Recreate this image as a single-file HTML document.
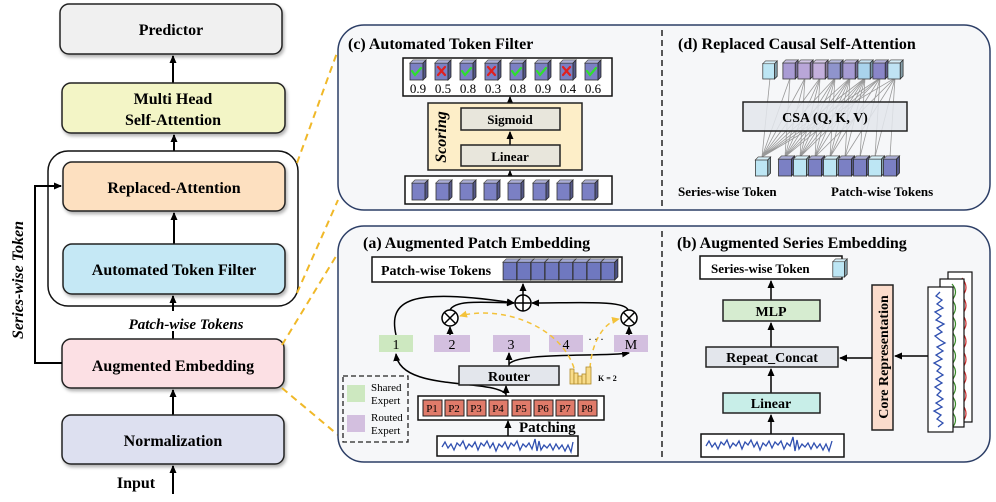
<!DOCTYPE html>
<html><head><meta charset="utf-8"><style>
html,body{margin:0;padding:0;background:#fff;}
svg{display:block;font-family:"Liberation Serif",serif;}
.b{font-weight:bold;}
</style></head><body>
<svg width="996" height="502" viewBox="0 0 996 502" xmlns="http://www.w3.org/2000/svg">
<defs>
<marker id="ar" markerWidth="8" markerHeight="8" refX="7" refY="4" orient="auto" markerUnits="userSpaceOnUse"><path d="M0,0.5 L8,4 L0,7.5 Z" fill="#000"/></marker>
<marker id="ag" markerWidth="7" markerHeight="7" refX="6" refY="3.5" orient="auto" markerUnits="userSpaceOnUse"><path d="M0,0.5 L7,3.5 L0,6.5 Z" fill="#888"/></marker>
<marker id="ay" markerWidth="8" markerHeight="8" refX="7" refY="4" orient="auto" markerUnits="userSpaceOnUse"><path d="M0,0.5 L8,4 L0,7.5 Z" fill="#f3c23a"/></marker>
<symbol id="cb" viewBox="0 0 16 20" overflow="visible">
<rect x="0" y="3" width="13" height="17" stroke="#333" stroke-width="0.8"/>
<polygon points="0,3 3,0 16,0 13,3" stroke="#333" stroke-width="0.8"/>
<polygon points="0,3 3,0 16,0 13,3" fill="#fff" opacity="0.35"/>
<polygon points="13,3 16,0 16,17 13,20" stroke="#333" stroke-width="0.8"/>
<polygon points="13,3 16,0 16,17 13,20" fill="#000" opacity="0.3"/>
</symbol>
<filter id="sh" x="-5%" y="-5%" width="115%" height="130%"><feDropShadow dx="1.5" dy="2.5" stdDeviation="1.5" flood-color="#000" flood-opacity="0.3"/></filter>
</defs>

<!-- LEFT COLUMN -->
<rect x="60" y="4" width="222" height="50" rx="9" fill="#f0f0f0" stroke="#222" stroke-width="1.5" filter="url(#sh)"/>
<text x="171" y="35" text-anchor="middle" class="b" font-size="16">Predictor</text>
<line x1="173" y1="83" x2="173" y2="56" stroke="#000" stroke-width="2" marker-end="url(#ar)"/>
<rect x="62" y="83" width="223" height="50" rx="9" fill="#f3f5c6" stroke="#222" stroke-width="1.5" filter="url(#sh)"/>
<text x="173" y="104" text-anchor="middle" class="b" font-size="16">Multi Head</text>
<text x="173" y="125" text-anchor="middle" class="b" font-size="16">Self-Attention</text>
<line x1="174" y1="162" x2="174" y2="135" stroke="#000" stroke-width="2" marker-end="url(#ar)"/>
<rect x="48" y="151" width="250" height="155" rx="20" fill="#fff" stroke="#111" stroke-width="1.5"/>
<rect x="63" y="162" width="222" height="49" rx="9" fill="#fde0c0" stroke="#222" stroke-width="1.5" filter="url(#sh)"/>
<text x="174" y="193" text-anchor="middle" class="b" font-size="16">Replaced-Attention</text>
<line x1="174" y1="244" x2="174" y2="213" stroke="#000" stroke-width="2" marker-end="url(#ar)"/>
<rect x="63" y="244" width="222" height="50" rx="9" fill="#c5e8f5" stroke="#222" stroke-width="1.5" filter="url(#sh)"/>
<text x="174" y="275" text-anchor="middle" class="b" font-size="16">Automated Token Filter</text>
<line x1="173" y1="339" x2="173" y2="296" stroke="#000" stroke-width="2" marker-end="url(#ar)"/>
<rect x="116" y="311" width="140" height="20" fill="#fff"/>
<text x="186" y="329" text-anchor="middle" class="b" font-style="italic" font-size="15">Patch-wise Tokens</text>
<rect x="62" y="339" width="222" height="49" rx="9" fill="#fce0e4" stroke="#222" stroke-width="1.5" filter="url(#sh)"/>
<text x="173" y="371" text-anchor="middle" class="b" font-size="16">Augmented Embedding</text>
<line x1="173" y1="415" x2="173" y2="390" stroke="#000" stroke-width="2" marker-end="url(#ar)"/>
<rect x="62" y="415" width="222" height="49" rx="9" fill="#dde0f0" stroke="#222" stroke-width="1.5" filter="url(#sh)"/>
<text x="173" y="446" text-anchor="middle" class="b" font-size="16">Normalization</text>
<line x1="173" y1="494" x2="173" y2="466" stroke="#000" stroke-width="2" marker-end="url(#ar)"/>
<text x="136" y="488" text-anchor="middle" class="b" font-size="16">Input</text>
<polyline points="62,363 35,363 35,186 61,186" fill="none" stroke="#000" stroke-width="2" marker-end="url(#ar)"/>
<text transform="translate(23,280) rotate(-90)" text-anchor="middle" class="b" font-style="italic" font-size="16">Series-wise Token</text>

<!-- yellow dashed connectors -->
<g stroke="#f0b828" stroke-width="2" stroke-dasharray="7,5" fill="none">
<line x1="297" y1="163" x2="338" y2="50"/>
<line x1="297" y1="293" x2="338" y2="200"/>
<line x1="282" y1="345" x2="338" y2="253"/>
<line x1="282" y1="388" x2="338" y2="435"/>
</g>

<!-- TOP PANEL -->
<rect x="338" y="25" width="652" height="185" rx="26" fill="#f6f7f9" stroke="#2c3e66" stroke-width="1.5"/>
<line x1="662" y1="30" x2="662" y2="208" stroke="#222" stroke-width="1.5" stroke-dasharray="6,4"/>
<text x="348" y="49" class="b" font-size="16">(c) Automated Token Filter</text>
<text x="678" y="49" class="b" font-size="16">(d) Replaced Causal Self-Attention</text>

<rect x="403" y="58" width="209" height="38" fill="#fff" stroke="#111" stroke-width="1.5"/>
<g fill="#7b80c4">
<use href="#cb" x="410" y="60" width="16" height="20"/>
<use href="#cb" x="435" y="60" width="16" height="20"/>
<use href="#cb" x="460" y="60" width="16" height="20"/>
<use href="#cb" x="485" y="60" width="16" height="20"/>
<use href="#cb" x="510" y="60" width="16" height="20"/>
<use href="#cb" x="535" y="60" width="16" height="20"/>
<use href="#cb" x="560" y="60" width="16" height="20"/>
<use href="#cb" x="585" y="60" width="16" height="20"/>
</g>
<g stroke-width="2.2" fill="none" stroke-linecap="round">
<path d="M412,71 l3,4 l6,-7" stroke="#2ee02e"/>
<path d="M438,67 l7,8 M445,67 l-7,8" stroke="#e02020"/>
<path d="M462,71 l3,4 l6,-7" stroke="#2ee02e"/>
<path d="M488,67 l7,8 M495,67 l-7,8" stroke="#e02020"/>
<path d="M512,71 l3,4 l6,-7" stroke="#2ee02e"/>
<path d="M537,71 l3,4 l6,-7" stroke="#2ee02e"/>
<path d="M563,67 l7,8 M570,67 l-7,8" stroke="#e02020"/>
<path d="M587,71 l3,4 l6,-7" stroke="#2ee02e"/>
</g>
<g font-size="13" text-anchor="middle">
<text x="418" y="93">0.9</text><text x="443" y="93">0.5</text><text x="468" y="93">0.8</text><text x="493" y="93">0.3</text>
<text x="518" y="93">0.8</text><text x="543" y="93">0.9</text><text x="568" y="93">0.4</text><text x="593" y="93">0.6</text>
</g>
<line x1="510" y1="104" x2="510" y2="97" stroke="#000" stroke-width="1.5" marker-end="url(#ar)"/>
<rect x="428" y="103" width="154" height="67" fill="#fdeec8" stroke="#222" stroke-width="1.5"/>
<text transform="translate(446,137) rotate(-90)" text-anchor="middle" class="b" font-style="italic" font-size="16">Scoring</text>
<rect x="461" y="108" width="99" height="22" fill="#e8e6dc" stroke="#222" stroke-width="1.5"/>
<text x="510" y="124" text-anchor="middle" class="b" font-size="13">Sigmoid</text>
<line x1="510" y1="145" x2="510" y2="132" stroke="#000" stroke-width="1.5" marker-end="url(#ar)"/>
<rect x="461" y="145" width="99" height="21" fill="#e8e6dc" stroke="#222" stroke-width="1.5"/>
<text x="510" y="161" text-anchor="middle" class="b" font-size="13">Linear</text>
<line x1="510" y1="176" x2="510" y2="171" stroke="#000" stroke-width="1.5" marker-end="url(#ar)"/>
<rect x="405" y="176" width="207" height="28" fill="#fff" stroke="#111" stroke-width="1.5"/>
<g fill="#7b80c4">
<use href="#cb" x="412" y="180" width="16" height="20"/>
<use href="#cb" x="436" y="180" width="16" height="20"/>
<use href="#cb" x="460" y="180" width="16" height="20"/>
<use href="#cb" x="484" y="180" width="16" height="20"/>
<use href="#cb" x="508" y="180" width="16" height="20"/>
<use href="#cb" x="533" y="180" width="16" height="20"/>
<use href="#cb" x="557" y="180" width="16" height="20"/>
<use href="#cb" x="582" y="180" width="16" height="20"/>
</g>

<!-- (d) -->
<g stroke="#999" stroke-width="0.8" fill="none">
<path d="M762,157 L770,78 M762,157 L790,78 M762,157 L805,78 M762,157 L820,78 M762,157 L835,78 M762,157 L850,78 M762,157 L865,78 M762,157 L880,78 M762,157 L895,78"/>
<path d="M785,157 L790,78 M785,157 L805,78 M785,157 L820,78 M785,157 L835,78 M785,157 L850,78 M785,157 L865,78 M785,157 L880,78"/>
<path d="M800,157 L805,78 M800,157 L820,78 M800,157 L835,78 M800,157 L850,78 M800,157 L865,78 M800,157 L880,78"/>
<path d="M815,157 L820,78 M815,157 L835,78 M815,157 L850,78 M815,157 L865,78 M815,157 L895,78"/>
<path d="M830,157 L835,78 M830,157 L850,78 M830,157 L865,78 M830,157 L880,78 M845,157 L850,78 M845,157 L865,78 M845,157 L895,78 M860,157 L865,78 M860,157 L880,78 M875,157 L880,78 M875,157 L895,78 M890,157 L895,78"/>
</g>
<rect x="743" y="102" width="164" height="29" fill="#e3e6ec" fill-opacity="0.85" stroke="#222" stroke-width="1.5"/>
<text x="825" y="122" text-anchor="middle" class="b" font-size="14">CSA (Q, K, V)</text>
<use href="#cb" x="762" y="61" width="16" height="18" fill="#bde6f4"/>
<g>
<use href="#cb" x="782" y="60" width="17" height="19" fill="#a99bd4"/>
<use href="#cb" x="797" y="60" width="17" height="19" fill="#b9a6d8"/>
<use href="#cb" x="812" y="60" width="17" height="19" fill="#c4b0dc"/>
<use href="#cb" x="827" y="60" width="17" height="19" fill="#8f94cc"/>
<use href="#cb" x="842" y="60" width="17" height="19" fill="#a69bd3"/>
<use href="#cb" x="857" y="60" width="17" height="19" fill="#a9d3ec"/>
<use href="#cb" x="872" y="60" width="17" height="19" fill="#8a86c8"/>
<use href="#cb" x="887" y="60" width="17" height="19" fill="#bfe3f3"/>
</g>
<use href="#cb" x="755" y="157" width="16" height="19" fill="#bde6f4"/>
<g>
<use href="#cb" x="778" y="156" width="17" height="20" fill="#7b80c4"/>
<use href="#cb" x="793" y="156" width="17" height="20" fill="#bde6f4"/>
<use href="#cb" x="808" y="156" width="17" height="20" fill="#7b80c4"/>
<use href="#cb" x="823" y="156" width="17" height="20" fill="#bde6f4"/>
<use href="#cb" x="838" y="156" width="17" height="20" fill="#7b80c4"/>
<use href="#cb" x="853" y="156" width="17" height="20" fill="#7b80c4"/>
<use href="#cb" x="868" y="156" width="17" height="20" fill="#bde6f4"/>
<use href="#cb" x="883" y="156" width="17" height="20" fill="#7b80c4"/>
</g>
<text x="678" y="196" class="b" font-size="13">Series-wise Token</text>
<text x="831" y="196" class="b" font-size="13">Patch-wise Tokens</text>

<!-- BOTTOM PANEL -->
<rect x="338" y="226" width="652" height="236" rx="26" fill="#f6f7f9" stroke="#2c3e66" stroke-width="1.5"/>
<line x1="662" y1="231" x2="662" y2="460" stroke="#222" stroke-width="1.5" stroke-dasharray="6,4"/>
<text x="363" y="248" class="b" font-size="16">(a) Augmented Patch Embedding</text>
<text x="677" y="248" class="b" font-size="16">(b) Augmented Series Embedding</text>

<!-- (a) -->
<rect x="372" y="257" width="250" height="25" fill="#fff" stroke="#111" stroke-width="1.5"/>
<text x="381" y="275" class="b" font-size="14">Patch-wise Tokens</text>
<g fill="#6f78c0">
<use href="#cb" x="503" y="259" width="17" height="21"/>
<use href="#cb" x="517" y="259" width="17" height="21"/>
<use href="#cb" x="531" y="259" width="17" height="21"/>
<use href="#cb" x="545" y="259" width="17" height="21"/>
<use href="#cb" x="559" y="259" width="17" height="21"/>
<use href="#cb" x="573" y="259" width="17" height="21"/>
<use href="#cb" x="587" y="259" width="17" height="21"/>
<use href="#cb" x="601" y="259" width="17" height="21"/>
</g>
<line x1="523" y1="295" x2="523" y2="284" stroke="#000" stroke-width="1.5" marker-end="url(#ar)"/>
<g fill="none" stroke="#000" stroke-width="1.5">
<path d="M396,335 C388,300 410,287 514,303" marker-end="url(#ar)"/>
<path d="M450,310 C455,300 480,302 514,303" marker-end="url(#ar)"/>
<path d="M628,310 C625,300 580,303 532,303" marker-end="url(#ar)"/>
<path d="M509,364 C520,352 600,357 629,353" marker-end="url(#ar)"/>
<path d="M506,394 C490,378 400,392 396,354" marker-end="url(#ar)"/>
</g>
<circle cx="523" cy="303" r="8" fill="#fff" stroke="#000" stroke-width="1.5"/>
<path d="M515,303 h16 M523,295 v16" stroke="#000" stroke-width="1.5"/>
<circle cx="450" cy="318" r="8" fill="#fff" stroke="#000" stroke-width="1.5"/>
<path d="M444.5,312.5 l11,11 M455.5,312.5 l-11,11" stroke="#000" stroke-width="1.5"/>
<circle cx="629" cy="318" r="8" fill="#fff" stroke="#000" stroke-width="1.5"/>
<path d="M623.5,312.5 l11,11 M634.5,312.5 l-11,11" stroke="#000" stroke-width="1.5"/>
<line x1="450" y1="335" x2="450" y2="327" stroke="#000" stroke-width="1.5" marker-end="url(#ar)"/>
<line x1="629" y1="335" x2="629" y2="327" stroke="#000" stroke-width="1.5" marker-end="url(#ar)"/>
<line x1="509" y1="366" x2="509" y2="353" stroke="#000" stroke-width="1.5" marker-end="url(#ar)"/>
<rect x="379" y="335" width="34" height="17" fill="#cde8c0"/>
<rect x="434" y="335" width="36" height="17" fill="#d3bfdf"/>
<rect x="493" y="335" width="37" height="17" fill="#d3bfdf"/>
<rect x="549" y="335" width="34" height="17" fill="#d3bfdf"/>
<rect x="614" y="335" width="34" height="17" fill="#d3bfdf"/>
<g font-size="14" text-anchor="middle">
<text x="396" y="349">1</text><text x="452" y="349">2</text><text x="511" y="349">3</text><text x="566" y="349">4</text><text x="631" y="349">M</text>
</g>
<text x="596" y="340" font-size="12" text-anchor="middle">. . .</text>
<g fill="none" stroke="#f3c23a" stroke-width="1.5" stroke-dasharray="5,4">
<path d="M574,368 C560,325 500,305 460,316" marker-end="url(#ay)"/>
<path d="M590,368 C592,340 605,322 619,319" marker-end="url(#ay)"/>
</g>
<rect x="459" y="366" width="100" height="19" fill="#e3e6ec" stroke="#222" stroke-width="1.5"/>
<text x="509" y="381" text-anchor="middle" class="b" font-size="14">Router</text>
<g fill="#f8dc8a" stroke="#b08a2a" stroke-width="0.8">
<rect x="570" y="369" width="4" height="15"/><rect x="574" y="373" width="4" height="11"/><rect x="578" y="376" width="4" height="8"/><rect x="582" y="374" width="4" height="10"/><rect x="586" y="367" width="5" height="17"/>
</g>
<text x="598" y="381" class="b" font-size="8">K = 2</text>
<rect x="343" y="376" width="65" height="66" fill="none" stroke="#222" stroke-width="1.3" stroke-dasharray="5,3"/>
<rect x="347" y="385" width="18" height="17" fill="#cde8c0"/>
<rect x="347" y="415" width="18" height="17" fill="#d3bfdf"/>
<g font-size="11"><text x="371" y="391">Shared</text><text x="371" y="404">Expert</text><text x="371" y="421">Routed</text><text x="371" y="434">Expert</text></g>
<line x1="506" y1="396" x2="506" y2="386" stroke="#000" stroke-width="1.5" marker-end="url(#ar)"/>
<rect x="418" y="396" width="186" height="24" fill="#fff" stroke="#111" stroke-width="1.5"/>
<g fill="#e07b6a" stroke="#222" stroke-width="1">
<rect x="423" y="400" width="19" height="16"/><rect x="445" y="400" width="19" height="16"/><rect x="467" y="400" width="19" height="16"/><rect x="489" y="400" width="19" height="16"/>
<rect x="512" y="400" width="19" height="16"/><rect x="534" y="400" width="19" height="16"/><rect x="556" y="400" width="19" height="16"/><rect x="578" y="400" width="19" height="16"/>
</g>
<g font-size="11" text-anchor="middle">
<text x="432" y="412">P1</text><text x="454" y="412">P2</text><text x="476" y="412">P3</text><text x="498" y="412">P4</text>
<text x="521" y="412">P5</text><text x="543" y="412">P6</text><text x="565" y="412">P7</text><text x="587" y="412">P8</text>
</g>
<line x1="508" y1="436" x2="508" y2="421" stroke="#000" stroke-width="1.5" marker-end="url(#ar)"/>
<text x="519" y="432" class="b" font-size="15">Patching</text>
<rect x="437" y="436" width="141" height="20" fill="#fff" stroke="#111" stroke-width="1.5"/>
<polyline fill="none" stroke="#3050b0" stroke-width="1.3" points="442,447 445,442 448,448 451,444 454,450 457,443 460,446 463,441 466,449 469,444 472,447 475,442 478,450 481,443 484,446 487,441 490,448 493,443 496,451 499,444 502,447 505,442 508,449 511,443 514,446 517,441 520,450 523,444 526,447 529,443 532,449 535,439 537,451 539,441 541,450 544,445 547,448 550,444 553,450 556,444 559,449 562,445 565,451 568,445 571,452 573,442"/>

<!-- (b) -->
<rect x="700" y="256" width="142" height="23" fill="#fff" stroke="#111" stroke-width="1.5"/>
<text x="711" y="273" class="b" font-size="13">Series-wise Token</text>
<use href="#cb" x="832" y="259" width="16" height="18" fill="#bde6f4"/>
<line x1="771" y1="300" x2="771" y2="281" stroke="#000" stroke-width="1.5" marker-end="url(#ar)"/>
<rect x="723" y="300" width="97" height="21" fill="#d6ecd0" stroke="#222" stroke-width="1.5"/>
<text x="771" y="316" text-anchor="middle" class="b" font-size="14">MLP</text>
<line x1="771" y1="347" x2="771" y2="323" stroke="#000" stroke-width="1.5" marker-end="url(#ar)"/>
<rect x="706" y="347" width="132" height="20" fill="#e3e6ec" stroke="#222" stroke-width="1.5"/>
<text x="772" y="362" text-anchor="middle" class="b" font-size="14">Repeat_Concat</text>
<line x1="771" y1="393" x2="771" y2="369" stroke="#000" stroke-width="1.5" marker-end="url(#ar)"/>
<rect x="723" y="393" width="97" height="20" fill="#c8eee8" stroke="#222" stroke-width="1.5"/>
<text x="771" y="408" text-anchor="middle" class="b" font-size="14">Linear</text>
<line x1="771" y1="434" x2="771" y2="415" stroke="#000" stroke-width="1.5" marker-end="url(#ar)"/>
<rect x="701" y="434" width="143" height="23" fill="#fff" stroke="#111" stroke-width="1.5"/>
<polyline fill="none" stroke="#3050b0" stroke-width="1.3" points="706,446 709,441 712,447 715,443 718,449 721,442 724,445 727,440 730,448 733,443 736,446 739,441 742,449 745,442 748,445 751,440 754,447 757,442 760,450 763,443 766,446 769,441 772,448 775,442 778,445 781,441 784,449 787,443 790,446 793,437 795,451 797,440 799,449 802,444 805,447 808,443 811,449 814,443 817,448 820,444 823,450 826,444 829,451 832,441"/>
<rect x="872" y="285" width="21" height="145" fill="#fbdccc" stroke="#222" stroke-width="1.5"/>
<text transform="translate(888,357) rotate(-90)" text-anchor="middle" class="b" font-size="14">Core Representation</text>
<line x1="872" y1="358" x2="840" y2="358" stroke="#000" stroke-width="1.5" marker-end="url(#ar)"/>
<line x1="928" y1="356" x2="895" y2="356" stroke="#000" stroke-width="1.5" marker-end="url(#ar)"/>
<rect x="948" y="272" width="24" height="150" fill="#fff" stroke="#111" stroke-width="1.2"/>
<path d="M950,278 q8,10 0,18 q8,10 0,18 q8,10 0,18 q8,10 0,18 q8,10 0,18 q8,10 0,18 q8,10 0,18 q8,10 0,18" fill="none" stroke="#d03030" stroke-width="1.2" transform="translate(12,0)"/>
<rect x="940" y="279" width="24" height="148" fill="#fff" stroke="#111" stroke-width="1.2"/>
<path d="M952,284 q7,8 0,16 q7,8 0,16 q7,8 0,16 q7,8 0,16 q7,8 0,16 q7,8 0,16 q7,8 0,16 q7,8 0,16 q7,8 0,16" fill="none" stroke="#3a8a2a" stroke-width="1.2"/>
<rect x="928" y="287" width="25" height="145" fill="#fff" stroke="#111" stroke-width="1.2"/>
<polyline fill="none" stroke="#3050b0" stroke-width="1.3" points="940,292 936,296 942,300 937,304 943,308 935,312 941,316 936,320 944,324 937,328 942,332 935,336 940,340 945,343 937,347 943,351 936,355 942,359 934,363 941,367 937,371 943,375 936,379 942,383 935,387 941,391 937,395 943,399 936,403 942,407 934,411 941,415 937,419 943,423 938,427"/>
</svg>
</body></html>
